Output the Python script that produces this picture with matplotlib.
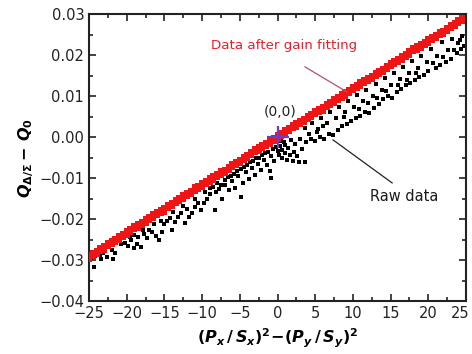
import matplotlib
matplotlib.use("Agg")
import matplotlib.pyplot as plt
from matplotlib.ticker import MultipleLocator, FuncFormatter
from matplotlib.transforms import ScaledTranslation

plt.rcParams["font.family"] = ["DejaVu Sans"]
plt.rcParams["mathtext.fontset"] = "custom"
plt.rcParams["mathtext.rm"] = "DejaVu Sans:bold"
plt.rcParams["mathtext.it"] = "DejaVu Sans:bold:italic"
plt.rcParams["mathtext.bf"] = "DejaVu Sans:bold"

# Data after gain fitting
fit_x = [-25.0, -24.5, -24.0, -23.5, -23.0, -22.5, -22.0, -21.5, -21.0, -20.5,
         -20.0, -19.5, -19.0, -18.5, -18.0, -17.5, -17.0, -16.5, -16.0, -15.5,
         -15.0, -14.5, -14.0, -13.5, -13.0, -12.5, -12.0, -11.5, -11.0, -10.5,
         -10.0, -9.5, -9.0, -8.5, -8.0, -7.5, -7.0, -6.5, -6.0, -5.5,
         -5.0, -4.5, -4.0, -3.5, -3.0, -2.5, -2.0, -1.5, -1.0, -0.5,
         0.0, 0.5, 1.0, 1.5, 2.0, 2.5, 3.0, 3.5, 4.0, 4.5,
         5.0, 5.5, 6.0, 6.5, 7.0, 7.5, 8.0, 8.5, 9.0, 9.5,
         10.0, 10.5, 11.0, 11.5, 12.0, 12.5, 13.0, 13.5, 14.0, 14.5,
         15.0, 15.5, 16.0, 16.5, 17.0, 17.5, 18.0, 18.5, 19.0, 19.5,
         20.0, 20.5, 21.0, 21.5, 22.0, 22.5, 23.0, 23.5, 24.0, 24.5]
fit_y = [-0.0293, -0.0287, -0.0281, -0.0275, -0.0271, -0.0263, -0.0257, -0.0252, -0.0246, -0.0240,
         -0.0234, -0.0228, -0.0220, -0.0217, -0.0211, -0.0205, -0.0199, -0.0193, -0.0187, -0.0181,
         -0.0178, -0.0170, -0.0164, -0.0158, -0.0152, -0.0146, -0.0140, -0.0135, -0.0127, -0.0123,
         -0.0117, -0.0111, -0.0105, -0.0100, -0.0094, -0.0088, -0.0084, -0.0076, -0.0070, -0.0064,
         -0.0059, -0.0053, -0.0047, -0.0041, -0.0033, -0.0029, -0.0023, -0.0018, -0.0012, -0.0006,
         0.0000, 0.0006, 0.0012, 0.0018, 0.0025, 0.0029, 0.0035, 0.0041, 0.0047, 0.0053,
         0.0059, 0.0064, 0.0068, 0.0076, 0.0082, 0.0088, 0.0094, 0.0100, 0.0105, 0.0111,
         0.0119, 0.0123, 0.0129, 0.0135, 0.0140, 0.0146, 0.0152, 0.0158, 0.0162, 0.0170,
         0.0176, 0.0181, 0.0187, 0.0193, 0.0199, 0.0205, 0.0213, 0.0217, 0.0222, 0.0228,
         0.0234, 0.0240, 0.0246, 0.0252, 0.0255, 0.0263, 0.0269, 0.0275, 0.0281, 0.0287]
fit_offset = [0.0004, -0.0004]

# Raw data
raw_x = [-24.3, -24.8, -24.2, -23.6, -23.1, -22.6, -21.8, -21.6, -22.0,
         -20.2, -19.8, -19.4, -19.1, -18.7, -18.5, -18.1, -19.0, -17.7, -17.3,
         -17.0, -16.6, -16.1, -15.7, -15.3, -15.0, -14.6, -14.2, -14.0, -13.6,
         -13.2, -12.8, -12.3, -12.0, -11.7, -11.3, -10.9, -10.5, -10.1, -9.7,
         -9.3, -8.9, -8.3, -8.1, -7.7, -7.3, -6.9, -6.5, -6.1, -5.7,
         -5.3, -4.8, -4.6, -4.2, -3.8, -3.4, -3.0, -2.6, -2.2, -1.8,
         -1.4, -1.0, -0.9, -0.8, -0.4, 0.0,
         -20.8, -17.9, -16.4, -13.8, -11.0, -9.6, -8.5, -7.0, -5.8, -4.9,
         -3.6, -2.4, -1.2,
         -9.0, -8.0, -7.5, -6.6, -6.2, -5.4, -4.4, -4.0, -3.2, -2.8,
         -2.0, -1.6, -0.6, -0.2, -12.5, -15.5, -19.5, -23.4,
         0.3, 0.6, 0.8, 1.2, 1.4, 1.8, 2.0, 2.3, 2.8, 3.0, 3.3, 3.6, 0.2,
         0.6, 1.0, 1.6, 2.2, 2.6, 1.0, 0.4,
         3.8, 4.4, 5.0, 5.6, 6.2, 6.8, 7.4, 8.0, 8.6, 9.2,
         9.8, 10.4, 11.0, 11.6, 12.2, 12.8, 13.4, 14.0, 14.6, 15.2,
         15.8, 16.4, 17.0, 17.6, 18.2, 18.8, 19.4, 20.0, 21.0, 21.6,
         22.4, 23.0, 23.8, 24.4, 24.8,
         4.2, 5.4, 6.6, 7.8, 9.0, 10.2, 11.4, 12.6, 13.8, 15.0,
         16.2, 17.4, 18.6, 19.8, 21.2, 22.6, 24.0,
         3.6, 4.6, 5.8, 7.0, 8.2, 9.4, 10.6, 11.8, 13.0, 14.2,
         15.4, 16.6, 17.8, 19.0, 20.4, 21.8, 23.2, 24.5,
         5.2, 6.0, 8.8, 10.8, 12.0, 13.2, 14.4, 16.0, 17.2, 18.4,
         20.6, 22.0, 23.4, 24.2]
raw_y = [-0.0317, -0.0296, -0.0291, -0.0287, -0.0282, -0.0292, -0.0298, -0.0284, -0.0276,
         -0.0258, -0.0266, -0.0252, -0.0270, -0.0262, -0.0245, -0.0268, -0.0240, -0.0236, -0.0246,
         -0.0226, -0.0232, -0.0241, -0.0250, -0.0232, -0.0212, -0.0204, -0.0198, -0.0226, -0.0208,
         -0.0194, -0.0186, -0.0210, -0.0176, -0.0196, -0.0186, -0.0170, -0.0162, -0.0178, -0.0160,
         -0.0150, -0.0138, -0.0178, -0.0133, -0.0126, -0.0152, -0.0116, -0.0130, -0.0108, -0.0124,
         -0.0096, -0.0146, -0.0112, -0.0086, -0.0102, -0.0076, -0.0092, -0.0066, -0.0080, -0.0056,
         -0.0068, -0.0084, -0.0100, -0.0046, -0.0058, -0.0034,
         -0.0262, -0.0228, -0.0212, -0.0182, -0.0152, -0.0135, -0.0122, -0.0104, -0.0090, -0.0078,
         -0.0062, -0.0050, -0.0036,
         -0.0124, -0.0112, -0.0118, -0.0098, -0.0094, -0.0084, -0.0072, -0.0068, -0.0058, -0.0052,
         -0.0044, -0.0040, -0.0030, -0.0024, -0.0168, -0.0205, -0.0244, -0.0298,
         -0.0022, -0.0050, -0.0012, -0.0055, -0.0028, -0.0008, -0.0058, -0.0018, -0.0062, -0.0004, -0.0030, -0.0060, -0.0044,
         -0.0032, -0.0040, -0.0044, -0.0036, -0.0046, -0.0020, -0.0010,
         -0.0012, -0.0006, -0.0010, 0.0000, -0.0004, 0.0008, 0.0004, 0.0016, 0.0026, 0.0032,
         0.0040, 0.0046, 0.0052, 0.0060, 0.0058, 0.0070, 0.0080, 0.0092, 0.0100, 0.0096,
         0.0110, 0.0118, 0.0126, 0.0132, 0.0140, 0.0146, 0.0152, 0.0160, 0.0168, 0.0176,
         0.0182, 0.0190, 0.0206, 0.0214, 0.0222,
         0.0007, 0.0020, 0.0034, 0.0047, 0.0061, 0.0074, 0.0088, 0.0101, 0.0115, 0.0128,
         0.0141, 0.0155, 0.0168, 0.0182, 0.0197, 0.0213, 0.0229,
         0.0021, 0.0033, 0.0047, 0.0060, 0.0074, 0.0088, 0.0102, 0.0115, 0.0129, 0.0143,
         0.0157, 0.0171, 0.0185, 0.0198, 0.0214, 0.0231, 0.0240, 0.0246,
         0.0012, 0.0026, 0.0050, 0.0068, 0.0084, 0.0096, 0.0112, 0.0128, 0.0140, 0.0156,
         0.0180, 0.0196, 0.0212, 0.0236]

x_ticks = [-25, -20, -15, -10, -5, 0, 5, 10, 15, 20, 25]
y_ticks = [-0.04, -0.03, -0.02, -0.01, 0.00, 0.01, 0.02, 0.03]

fig = plt.figure(figsize=(4.72, 3.54), dpi=100)
ax = fig.add_axes([0.1886, 0.1497, 0.7987, 0.8107])

ax.plot(raw_x, raw_y, linestyle="none", marker="s", markersize=3.4,
        color="black", markeredgewidth=0, zorder=2)
# the fitted band is drawn as two slightly offset rows of squares
for off in fit_offset:
    ax.plot(fit_x, [v + off for v in fit_y], linestyle="none", marker="s",
            markersize=4.4, color="#f01414", markeredgewidth=0, zorder=3)

# origin marker
ax.plot([0], [0], marker="+", markersize=16, markeredgewidth=1.6,
        color="#6a3cd0", linestyle="none", zorder=5)
ax.text(0.3, 0.0061, "(0,0)", ha="center", va="center", fontsize=10, color="#222222")

# labels with leader lines
ax.text(0.9, 0.0223, "Data after gain fitting", ha="center", va="center",
        fontsize=9.6, color="#e5202e")
ax.plot([3.65, 9.2], [0.0171, 0.0110], color="#b05070", linewidth=0.9, zorder=4)
ax.text(16.8, -0.0146, "Raw data", ha="center", va="center", fontsize=10.5, color="#1a1a1a")
ax.plot([7.36, 15.2], [-0.0007, -0.0112], color="#222222", linewidth=0.9, zorder=4)

ax.set_xlim(-25, 25)
ax.set_ylim(-0.04, 0.03)
ax.set_xticks(x_ticks)
ax.set_yticks(y_ticks)
ax.xaxis.set_minor_locator(MultipleLocator(2.5))
ax.yaxis.set_minor_locator(MultipleLocator(0.005))
ax.xaxis.set_major_formatter(FuncFormatter(lambda v, p: f"{v:.0f}".replace("-", "\u2212")))
ax.yaxis.set_major_formatter(FuncFormatter(lambda v, p: f"{v:.2f}".replace("-", "\u2212")))

ax.tick_params(which="both", direction="in", top=True, right=True, width=1.2,
               labelsize=10.5, colors="#222222")
ax.tick_params(which="major", length=5)
ax.tick_params(which="minor", length=3)
for s in ax.spines.values():
    s.set_linewidth(1.5)
    s.set_color("#222222")

ax.set_xlabel(r"$(P_x\,/\,S_x)^2\!-\!(P_y\,/\,S_y)^2$", fontsize=11.5, labelpad=4)
ax.set_ylabel(r"$Q_{\Delta/\Sigma}-\,Q_0$", fontsize=11.5, labelpad=2)

# keep the last x tick label inside the canvas
fig.canvas.draw()
last = ax.get_xticklabels()[-1]
last.set_transform(last.get_transform() + ScaledTranslation(-4 / 72, 0, fig.dpi_scale_trans))

fig.savefig("out.png", dpi=100)
